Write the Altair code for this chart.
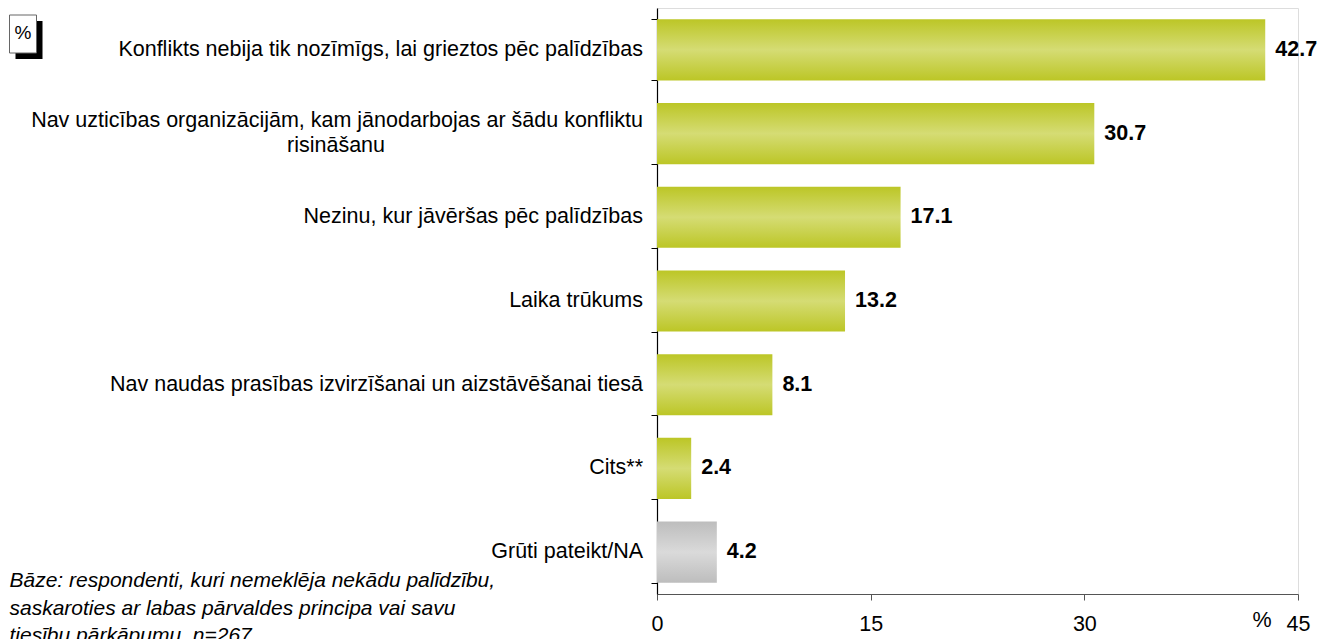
import altair as alt
import pandas as pd

categories = [
    "Konflikts nebija tik nozīmīgs, lai grieztos pēc palīdzības",
    "Nav uzticības organizācijām, kam jānodarbojas ar šādu konfliktu risināšanu",
    "Nezinu, kur jāvēršas pēc palīdzības",
    "Laika trūkums",
    "Nav naudas prasības izvirzīšanai un aizstāvēšanai tiesā",
    "Cits**",
    "Grūti pateikt/NA",
]
label_line1 = [
    "Konflikts nebija tik nozīmīgs, lai grieztos pēc palīdzības",
    "Nav uzticības organizācijām, kam jānodarbojas ar šādu konfliktu",
    "Nezinu, kur jāvēršas pēc palīdzības",
    "Laika trūkums",
    "Nav naudas prasības izvirzīšanai un aizstāvēšanai tiesā",
    "Cits**",
    "Grūti pateikt/NA",
]
label_line2 = ["", "risināšanu", "", "", "", "", ""]
values = [42.7, 30.7, 17.1, 13.2, 8.1, 2.4, 4.2]
groups = ["main", "main", "main", "main", "main", "main", "na"]
x_ticks = [0, 15, 30, 45]
footnote = ("Bāze: respondenti, kuri nemeklēja nekādu palīdzību,\n"
            "saskaroties ar labas pārvaldes principa vai savu\n"
            "tiesību pārkāpumu, n=267")

df = pd.DataFrame({
    "cat": categories,
    "line1": label_line1,
    "line2": label_line2,
    "value": values,
    "group": groups,
})

FONT = "Liberation Sans"
FS = 21.5

green_grad = alt.LinearGradient(
    gradient="linear", x1=0, x2=0, y1=0, y2=1,
    stops=[
        alt.GradientStop(color="#bcc626", offset=0),
        alt.GradientStop(color="#d5dc74", offset=0.5),
        alt.GradientStop(color="#bcc626", offset=1),
    ],
)
gray_grad = alt.LinearGradient(
    gradient="linear", x1=0, x2=0, y1=0, y2=1,
    stops=[
        alt.GradientStop(color="#bdbdbd", offset=0),
        alt.GradientStop(color="#dadada", offset=0.5),
        alt.GradientStop(color="#bdbdbd", offset=1),
    ],
)

y_enc = alt.Y(
    "cat:N", sort=categories,
    scale=alt.Scale(paddingInner=0.27, paddingOuter=0.135),
    axis=alt.Axis(labels=False, title=None, tickBand="extent", tickSize=6,
                  domainColor="#000000", tickColor="#000000", domainWidth=1.2),
)
x_enc = alt.X(
    "value:Q",
    scale=alt.Scale(domain=[0, 45], nice=False, zero=True),
    axis=alt.Axis(values=x_ticks, title=None, grid=False, tickSize=6,
                  labelFontSize=FS, labelPadding=13, labelFont=FONT,
                  labelColor="#000000", domainColor="#555555",
                  tickColor="#555555", labelFlush=False),
)

base = alt.Chart(df)

bars_main = base.transform_filter(alt.datum.group == "main").mark_bar(
    color=green_grad).encode(x=x_enc, y=y_enc)
bars_na = base.transform_filter(alt.datum.group == "na").mark_bar(
    color=gray_grad).encode(x=x_enc, y=y_enc)

values_text = base.mark_text(
    align="left", baseline="middle", dx=10, fontSize=FS, fontWeight="bold",
    font=FONT, color="#000000",
).encode(x="value:Q", y=alt.Y("cat:N", sort=categories),
         text=alt.Text("value:Q", format=".1f"))

single_labels = base.transform_filter(alt.datum.line2 == "").mark_text(
    align="right", baseline="middle", fontSize=FS, font=FONT, color="#000000",
).encode(x=alt.value(-14), y=alt.Y("cat:N", sort=categories), text="line1:N")

two_first = base.transform_filter(alt.datum.line2 != "").mark_text(
    align="right", baseline="middle", dy=-12.5, fontSize=FS, font=FONT,
    color="#000000",
).encode(x=alt.value(-14), y=alt.Y("cat:N", sort=categories), text="line1:N")

two_second = base.transform_filter(alt.datum.line2 != "").mark_text(
    align="center", baseline="middle", dy=12.5, fontSize=FS, font=FONT,
    color="#000000",
).encode(x=alt.value(-321), y=alt.Y("cat:N", sort=categories), text="line2:N")

one = pd.DataFrame({"a": [0]})
shadow = alt.Chart(one).mark_rect(color="#000000").encode(
    x=alt.value(-641.5), x2=alt.value(-614.5), y=alt.value(13), y2=alt.value(51))
box = alt.Chart(one).mark_rect(fill="#ffffff", stroke="#666666", strokeWidth=1).encode(
    x=alt.value(-647.5), x2=alt.value(-620.5), y=alt.value(7), y2=alt.value(45))
box_text = alt.Chart(one).mark_text(
    text="%", fontSize=19, font=FONT, color="#000000", baseline="middle", align="center",
).encode(x=alt.value(-634), y=alt.value(25))

foot = alt.Chart(one).mark_text(
    text=footnote, lineBreak="\n", lineHeight=27.5, align="left", baseline="top",
    fontSize=21, fontStyle="italic", font=FONT, color="#000000",
).encode(x=alt.value(-647.5), y=alt.value(562))

pct = alt.Chart(one).mark_text(
    text="%", fontSize=FS, font=FONT, color="#000000", baseline="middle", align="center",
).encode(x=alt.value(605), y=alt.value(613))

chart = alt.layer(
    bars_main, bars_na, values_text, single_labels, two_first, two_second,
    shadow, box, box_text, foot, pct,
).properties(
    width=641, height=586,
    autosize=alt.AutoSizeParams(type="none"),
    padding={"left": 649, "top": 0, "right": 19, "bottom": 45},
).configure_view(stroke=None).configure(font=FONT)

chart.save("out.html", embed_options={"renderer": "svg", "actions": False})
